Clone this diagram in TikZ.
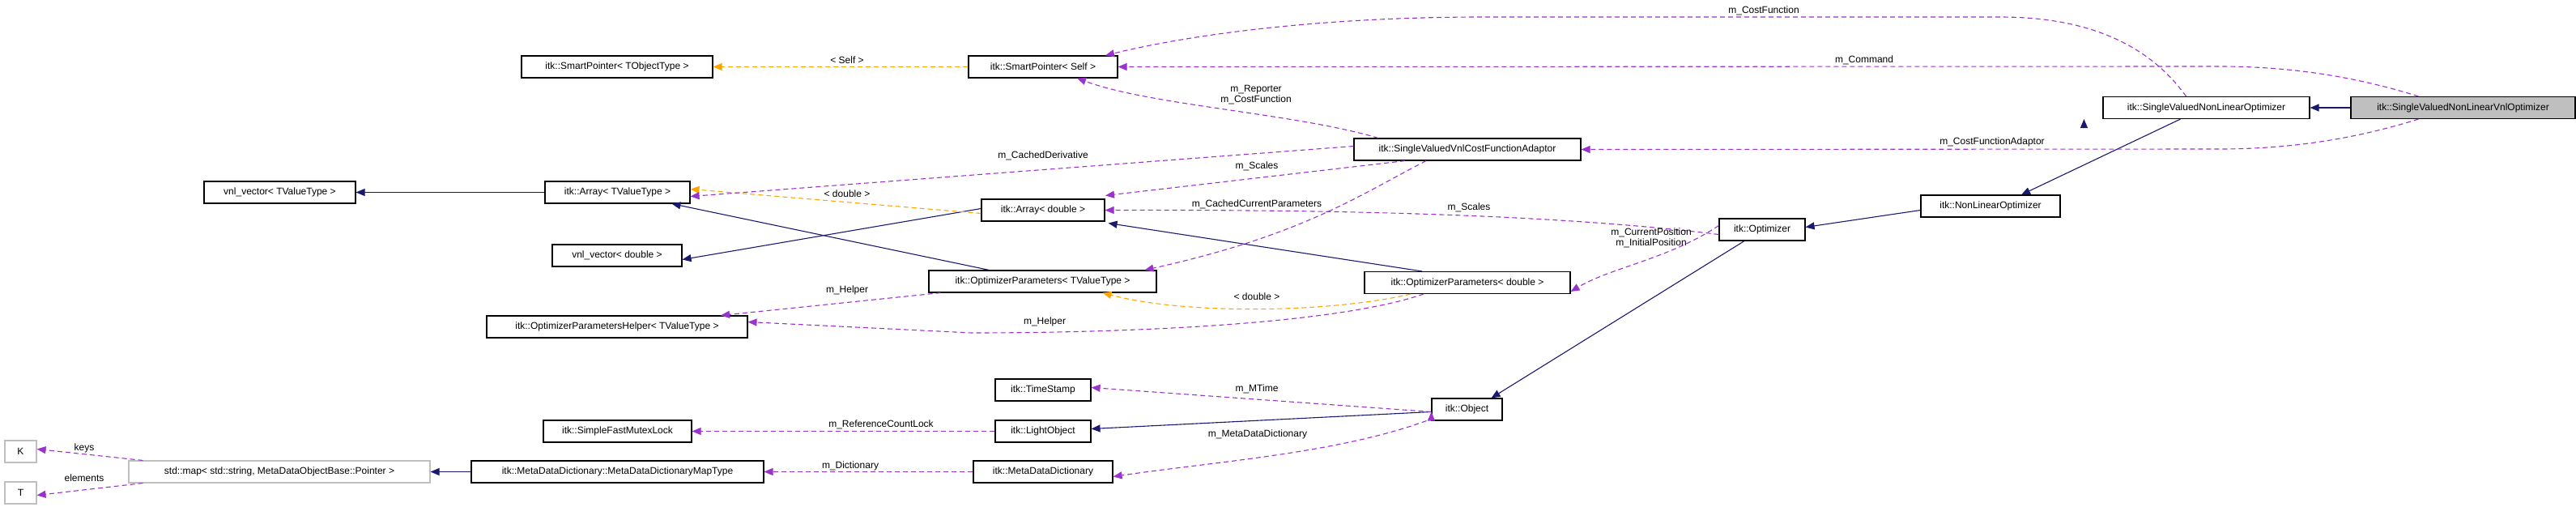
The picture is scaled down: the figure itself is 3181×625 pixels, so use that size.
\documentclass[tikz,border=0pt]{standalone}
\usepackage{fontspec}
\setmainfont{Liberation Sans}
\usetikzlibrary{arrows.meta}
\definecolor{inh}{HTML}{191970}
\definecolor{mem}{HTML}{9A32CD}
\definecolor{tpl}{HTML}{FFA500}
\definecolor{gbord}{HTML}{BFBFBF}
\tikzset{
 box/.style={draw=black, line width=1.1pt, minimum height=27pt, inner sep=0pt, font=\fontsize{12}{14}\selectfont, fill=white},
 gbox/.style={box, draw=gbord},
 inhe/.style={draw=inh, line width=1.1pt, -{Triangle[length=11pt,width=9pt]}},
 memb/.style={draw=mem, line width=1.1pt, dash pattern=on 6pt off 4pt, -{Triangle[length=11pt,width=9pt]}},
 tmpl/.style={draw=tpl, line width=1.1pt, dash pattern=on 6pt off 4pt, -{Triangle[length=11pt,width=9pt]}},
 lbl/.style={font=\fontsize{12}{13.5}\selectfont, inner sep=0pt, align=center, text=black},
}
\begin{document}
\begin{tikzpicture}[x=1pt,y=-1pt]
\useasboundingbox (0,0) rectangle (3181,625);
% nodes
\node[box, minimum width=236] (spt) at (762,82.5) {itk::SmartPointer< TObjectType >};
\node[box, minimum width=184] (sps) at (1288,82.5) {itk::SmartPointer< Self >};
\node[box, minimum width=187] (vvt) at (345.5,237.5) {vnl\_vector< TValueType >};
\node[box, minimum width=179] (art) at (762.5,237.5) {itk::Array< TValueType >};
\node[box, minimum width=160] (vvd) at (762,315.5) {vnl\_vector< double >};
\node[box, minimum width=322] (oph) at (762,403.5) {itk::OptimizerParametersHelper< TValueType >};
\node[box, minimum width=183] (sfm) at (762.5,532.5) {itk::SimpleFastMutexLock};
\node[gbox, minimum width=39] (k) at (25.5,557.5) {K};
\node[gbox, minimum width=39] (t) at (25.5,608.5) {T};
\node[gbox, minimum width=372] (map) at (345,582.5) {std::map< std::string, MetaDataObjectBase::Pointer >};
\node[box, minimum width=361] (mdm) at (762.5,582.5) {itk::MetaDataDictionary::MetaDataDictionaryMapType};
\node[box, minimum width=280] (ada) at (1812,184.5) {itk::SingleValuedVnlCostFunctionAdaptor};
\node[box, minimum width=152] (ard) at (1288,259.5) {itk::Array< double >};
\node[box, minimum width=281] (opt) at (1287.5,347.5) {itk::OptimizerParameters< TValueType >};
\node[box, minimum width=254] (opd) at (1812,349) {itk::OptimizerParameters< double >};
\node[box, minimum width=118] (ts) at (1288,481.5) {itk::TimeStamp};
\node[box, minimum width=118] (lo) at (1288,532.5) {itk::LightObject};
\node[box, minimum width=172] (mdd) at (1288,582.5) {itk::MetaDataDictionary};
\node[box, minimum width=87] (obj) at (1811.5,505.5) {itk::Object};
\node[box, minimum width=255] (svnlo) at (2724.5,133) {itk::SingleValuedNonLinearOptimizer};
\node[box, minimum width=277, fill=gbord] (main) at (3041.5,133) {itk::SingleValuedNonLinearVnlOptimizer};
\node[box, minimum width=172] (nlo) at (2458,254.5) {itk::NonLinearOptimizer};
\node[box, minimum width=106] (optz) at (2176,283.5) {itk::Optimizer};
% inheritance
\draw[inhe] (main) -- (svnlo);
\draw[inhe] ([xshift=7pt]svnlo.south west |- svnlo.south) ++(-30,0) coordinate (c1) ;
\draw[inhe] ([xshift=-32pt]svnlo.south) -- ([xshift=38pt]nlo.north);
\draw[inhe] ([yshift=-5pt]nlo.west) -- ([yshift=3pt]optz.east);
\draw[inhe] ([xshift=-22pt]optz.south) -- ([xshift=30pt]obj.north);
\draw[inhe] ([yshift=-3pt]obj.west) -- ([yshift=3pt]lo.east);
\draw[inhe] (mdm) -- (map);
\draw[inhe] (art) -- (vvt);
\draw[inhe] ([xshift=-66pt]opt.north) -- ([xshift=67pt]art.south);
\draw[inhe] ([yshift=2pt]ard.west) -- ([yshift=-5pt,xshift=0pt]vvd.east);
\draw[inhe] ([xshift=-56pt]opd.north) -- ([xshift=4pt,yshift=-2pt]ard.south east);
% template
\draw[tmpl] (sps) -- (spt) node[lbl] at (1046,74) {< Self >};
\draw[tmpl] ([yshift=-4pt]ard.west) -- ([yshift=4pt]art.east) node[lbl] at (1046,239) {< double >};
\draw[tmpl] ([xshift=-70pt]opd.south) .. controls (1650,385) and (1470,390) .. ([xshift=74pt]opt.south) node[lbl] at (1552,366) {< double >};
% members
\draw[memb] ([xshift=-25pt]svnlo.north) .. controls (2650,50) and (2570,21) .. (2470,21) -- (1830,21) .. controls (1620,21) and (1460,45) .. ([xshift=77pt]sps.north) node[lbl] at (2178,13) {m\_CostFunction};
\draw[memb] ([xshift=-55pt]main.north) .. controls (2900,92) and (2820,82) .. (2740,82) -- (sps.east) node[lbl] at (2302,74) {m\_Command};
\draw[memb] ([xshift=-55pt]main.south) .. controls (2900,174) and (2820,184) .. (2740,184) -- (ada.east) node[lbl] at (2460,175) {m\_CostFunctionAdaptor};
\draw[memb] ([xshift=-110pt]ada.north) .. controls (1600,140) and (1420,130) .. ([xshift=42pt]sps.south) node[lbl] at (1551,117) {m\_Reporter\\m\_CostFunction};
\draw[memb] ([yshift=4pt]ada.west) -- ([yshift=-5pt]art.east) node[lbl] at (1288,192) {m\_CachedDerivative};
\draw[memb] ([xshift=-77pt]ada.south) -- ([xshift=77pt,yshift=4pt]ard.north) node[lbl] at (1552,205) {m\_Scales};
\draw[memb] ([xshift=-51pt]ada.south) .. controls (1680,240) and (1610,290) .. ([xshift=126pt]opt.north) node[lbl] at (1552,252) {m\_CachedCurrentParameters};
\draw[memb] ([yshift=-6pt]optz.west) .. controls (1900,262) and (1600,259) .. (ard.east) node[lbl] at (1814,256) {m\_Scales};
\draw[memb] ([yshift=5pt]optz.west) .. controls (2060,320) and (1990,330) .. ([yshift=-11pt]opd.east) node[lbl] at (2039,294) {m\_CurrentPosition\\m\_InitialPosition};
\draw[memb] ([xshift=-126pt]opt.south) -- ([xshift=128pt]oph.north) node[lbl] at (1046,358) {m\_Helper};
\draw[memb] ([xshift=-54pt]opd.south) .. controls (1650,400) and (1400,411) .. (1200,411) -- ([yshift=6pt]oph.east) node[lbl] at (1290,397) {m\_Helper};
\draw[memb] ([yshift=-3pt]obj.west) ++(0,0) coordinate (oo);
\draw[memb] ([yshift=-3pt]obj.west) -- ([yshift=3pt]ts.east) node[lbl] at (1552,480) {m\_MTime};
\draw[memb] ([xshift=-6pt]obj.south west) .. controls (1650,560) and (1500,570) .. ([yshift=-6pt]mdd.east) node[lbl] at (1553,536) {m\_MetaDataDictionary};
\draw[memb] (lo) -- (sfm) node[lbl] at (1088,524) {m\_ReferenceCountLock};
\draw[memb] (mdd) -- (mdm) node[lbl] at (1050,575) {m\_Dictionary};
\draw[memb] ([xshift=18pt]map.north west) -- ([yshift=3pt]k.east) node[lbl] at (104,553) {keys};
\draw[memb] ([xshift=18pt]map.south west) -- ([yshift=-3pt]t.east) node[lbl] at (104,590) {elements};
\end{tikzpicture}
\end{document}
